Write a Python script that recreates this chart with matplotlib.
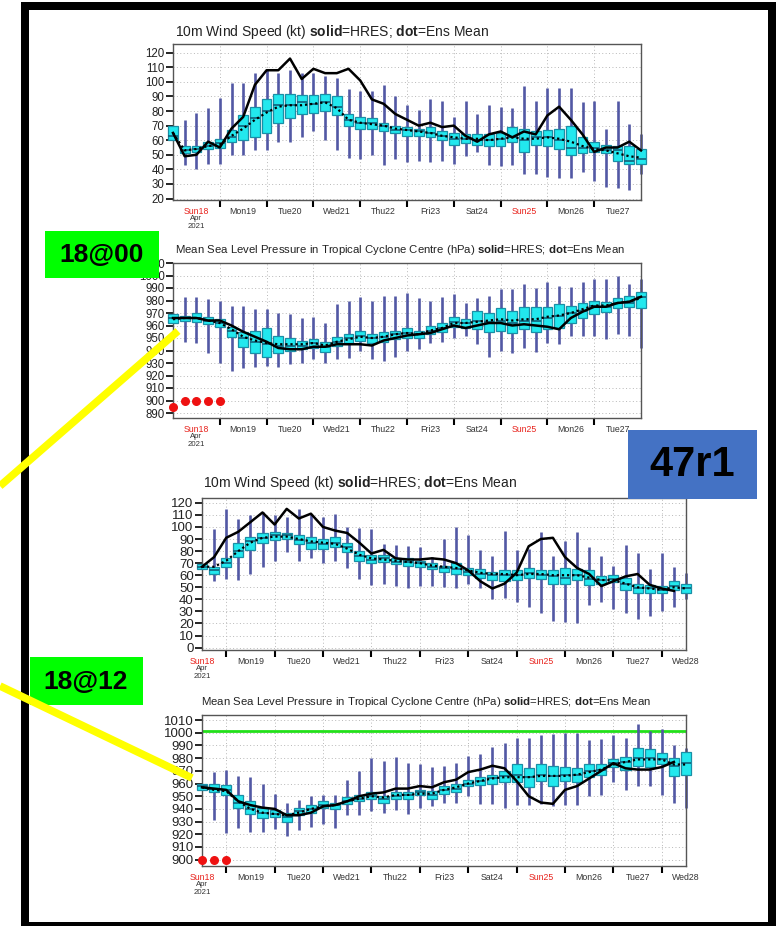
import matplotlib
matplotlib.use("Agg")
import matplotlib.pyplot as plt
from matplotlib.patches import Rectangle
from matplotlib.lines import Line2D
import numpy as np

plt.rcParams['font.family'] = ['Liberation Sans', 'DejaVu Sans']
plt.rcParams['mathtext.fontset'] = 'custom'
plt.rcParams['mathtext.rm'] = 'Liberation Sans'
plt.rcParams['mathtext.bf'] = 'Liberation Sans:bold'

W, H = 776, 926

day_names = ["Sun18", "Mon19", "Tue20", "Wed21", "Thu22", "Fri23",
             "Sat24", "Sun25", "Mon26", "Tue27", "Wed28"]

# --- 46r1 run, base 18 Apr 00 UTC: 10m wind (kt) ---
p1_q1 = [60, 51, 52, 54, 55, 59, 60, 62, 65, 72, 75, 78, 79, 80, 77, 70, 68, 68, 66, 65, 63,
         63, 62, 60, 57, 58, 57, 56, 56, 59, 52, 57, 56, 54, 50, 51, 52, 51, 46, 44, 44]
p1_q3 = [70, 56, 56, 59, 61, 67, 77, 83, 88, 92, 92, 91, 91, 92, 90, 78, 76, 75, 72, 70, 69,
         68, 69, 66, 65, 64, 64, 64, 65, 69, 68, 66, 67, 68, 70, 62, 59, 57, 56, 56, 54]
p1_med = [63, 53, 54, 56, 58, 62, 70, 75, 80, 84, 84, 86, 85, 86, 83, 74, 72, 72, 70, 67, 67,
          66, 65, 63, 61, 61, 60, 60, 61, 62, 60, 62, 62, 60, 55, 55, 55, 53, 53, 46, 47]
p1_lo = [60, 43, 40, 44, 44, 50, 50, 53, 53, 59, 59, 62, 66, 60, 53, 48, 47, 50, 43, 47, 45,
         46, 45, 46, 44, 49, 52, 43, 42, 43, 37, 37, 35, 34, 34, 38, 32, 28, 27, 26, 37]
p1_hi = [70, 74, 79, 82, 89, 99, 99, 106, 108, 106, 108, 106, 106, 104, 103, 95, 94, 94, 98, 90, 84,
         81, 88, 87, 76, 87, 78, 84, 83, 82, 97, 87, 96, 96, 96, 86, 87, 68, 87, 71, 64]
p1_mean = [65, 53, 54, 56, 57, 63, 68, 74, 79, 83, 84, 84, 85, 86, 82, 74, 72, 71, 70, 68, 67,
           66, 65, 63, 62, 61, 61, 60, 61, 62, 61, 61, 62, 61, 59, 56, 54, 53, 51, 49, 48]
p1_hres = [65, 49, 50, 59, 55, 68, 76, 98, 108, 108, 116, 102, 109, 106, 106, 109, 101, 88, 85, 78, 74,
           70, 72, 69, 70, 63, 59, 64, 66, 62, 66, 64, 77, 83, 74, 64, 52, 55, 55, 59, 53]

# --- base 18 Apr 00 UTC: MSLP in cyclone centre (hPa) ---
p2_q1 = [962, 964, 963, 961, 959, 951, 943, 938, 935, 938, 940, 941, 942, 939, 944, 946, 948, 946, 947, 949, 950,
         950, 953, 955, 959, 958, 957, 955, 956, 954, 957, 955, 957, 958, 962, 966, 969, 971, 974, 975, 974]
p2_q3 = [969, 968, 970, 967, 965, 959, 955, 956, 958, 952, 950, 948, 949, 947, 951, 953, 956, 953, 955, 956, 958,
         956, 960, 962, 967, 965, 972, 970, 974, 972, 975, 975, 975, 977, 976, 978, 980, 979, 982, 984, 987]
p2_med = [966, 966, 966, 964, 962, 956, 950, 947, 945, 944, 944, 944, 946, 943, 947, 950, 952, 950, 951, 953, 954,
          953, 956, 958, 963, 962, 964, 963, 964, 962, 964, 964, 966, 968, 970, 972, 976, 975, 978, 978, 983]
p2_lo = [962, 947, 946, 938, 930, 924, 926, 927, 928, 927, 929, 930, 933, 930, 933, 934, 940, 933, 932, 935, 940,
         941, 946, 947, 950, 952, 945, 935, 940, 938, 942, 939, 946, 945, 952, 952, 952, 949, 953, 952, 942]
p2_hi = [969, 983, 983, 981, 980, 976, 976, 973, 973, 970, 969, 966, 967, 962, 977, 980, 983, 980, 984, 984, 986,
         982, 980, 983, 985, 978, 982, 984, 989, 989, 993, 990, 995, 992, 991, 995, 997, 997, 1000, 993, 997]
p2_mean = [965, 966, 966, 964, 962, 957, 951, 948, 946, 945, 945, 945, 946, 944, 947, 949, 951, 950, 951, 953, 954,
           953, 956, 958, 962, 962, 963, 964, 965, 964, 965, 965, 967, 968, 970, 973, 976, 976, 978, 979, 982]
p2_hres = [966, 966, 966, 964, 964, 960, 955, 951, 947, 942, 941, 941, 943, 943, 945, 945, 945, 944, 948, 950, 952,
           953, 954, 957, 960, 958, 960, 962, 962, 960, 961, 960, 959, 957, 966, 971, 975, 975, 978, 979, 983]
p2_dot_t = [0, 6, 12, 18, 24]
p2_dot_v = [895, 900, 900, 900, 900]

# --- 47r1 run, base 18 Apr 12 UTC: 10m wind (kt) ---
p3_q1 = [65, 61, 67, 75, 81, 87, 89, 90, 86, 82, 82, 83, 79, 72, 70, 71, 69, 68, 67, 65, 63,
         61, 60, 58, 56, 55, 56, 58, 57, 53, 53, 56, 52, 53, 54, 48, 45, 45, 45, 48, 45]
p3_q3 = [69, 67, 74, 87, 92, 95, 96, 95, 93, 92, 90, 92, 87, 80, 77, 77, 74, 74, 72, 70, 68,
         70, 66, 65, 63, 64, 64, 66, 64, 64, 66, 65, 64, 59, 60, 58, 53, 52, 51, 55, 53]
p3_med = [67, 64, 70, 80, 88, 91, 93, 93, 89, 87, 86, 87, 83, 76, 73, 74, 71, 71, 70, 67, 66,
          65, 63, 61, 60, 60, 60, 62, 60, 59, 58, 60, 57, 56, 57, 53, 49, 49, 48, 51, 49]
p3_lo = [65, 55, 57, 56, 61, 67, 72, 79, 72, 74, 70, 72, 66, 57, 52, 53, 51, 49, 51, 51, 50,
         49, 53, 49, 40, 41, 38, 34, 29, 22, 21, 20, 35, 38, 32, 29, 24, 26, 30, 34, 40]
p3_hi = [69, 98, 115, 107, 110, 112, 110, 108, 115, 111, 108, 111, 100, 99, 98, 86, 85, 84, 83, 75, 90,
         100, 93, 81, 76, 97, 81, 82, 96, 76, 88, 96, 83, 76, 68, 85, 78, 65, 78, 67, 62]
p3_mean = [67, 67, 72, 80, 87, 91, 92, 92, 90, 88, 87, 86, 82, 77, 74, 73, 72, 71, 70, 68, 67,
           66, 64, 62, 61, 61, 60, 61, 61, 60, 60, 60, 58, 56, 56, 53, 50, 49, 48, 50, 49]
p3_hres = [67, 75, 91, 96, 104, 112, 102, 115, 107, 111, 100, 97, 95, 87, 78, 81, 74, 73, 73, 74,
           73, 70, 64, 55, 49, 53, 62, 84, 90, 91, 75, 66, 61, 51, 55, 59, 61, 52, 49, 47]

# --- base 18 Apr 12 UTC: MSLP in cyclone centre (hPa) ---
p4_q1 = [955, 953, 951, 941, 936, 933, 934, 930, 935, 937, 941, 940, 944, 946, 948, 945, 948, 948, 951, 948, 952,
         953, 958, 959, 960, 961, 961, 957, 962, 958, 962, 961, 965, 967, 973, 971, 974, 973, 975, 966, 967]
p4_q3 = [960, 960, 959, 951, 946, 941, 939, 937, 941, 943, 946, 945, 949, 951, 953, 950, 953, 953, 955, 954, 958,
         960, 963, 965, 967, 970, 975, 972, 975, 974, 973, 972, 975, 975, 979, 981, 988, 987, 984, 980, 985]
p4_med = [958, 956, 955, 945, 940, 937, 936, 934, 938, 940, 943, 943, 946, 948, 950, 948, 950, 951, 953, 951, 955,
          956, 960, 962, 964, 966, 967, 965, 967, 966, 967, 967, 970, 971, 976, 977, 980, 980, 979, 974, 976]
p4_lo = [955, 931, 921, 925, 922, 922, 924, 919, 923, 926, 928, 925, 935, 935, 938, 937, 939, 936, 941, 942, 945,
         945, 950, 944, 944, 941, 943, 943, 944, 942, 943, 943, 950, 951, 961, 955, 958, 958, 951, 945, 941]
p4_hi = [960, 969, 971, 966, 965, 960, 952, 945, 947, 950, 951, 951, 963, 970, 980, 978, 981, 976, 975, 973, 974,
         976, 982, 983, 989, 992, 996, 996, 998, 999, 1000, 1000, 994, 995, 998, 996, 1007, 1001, 1003, 990, 988]
p4_mean = [957, 955, 954, 946, 940, 937, 936, 935, 937, 940, 942, 943, 946, 948, 950, 949, 951, 951, 952, 952, 955,
           957, 960, 962, 964, 965, 965, 965, 966, 966, 966, 967, 969, 971, 975, 977, 979, 979, 979, 975, 975]
p4_hres = [957, 956, 955, 946, 943, 941, 940, 935, 935, 937, 942, 943, 946, 950, 952, 953, 956, 956, 958, 957,
           961, 963, 969, 971, 974, 972, 962, 950, 945, 944, 955, 958, 964, 970, 976, 972, 971, 971, 973, 977]
p4_dot_t = [12, 18, 24]
p4_dot_v = [900, 900, 900]
p4_ref_line = 1001

BOX_FACE = '#22e8ee'
BOX_EDGE = '#1a8fa6'
WHISKER = '#5258a4'


def fig_axes(fig, left, top, right, bottom):
    return fig.add_axes([left / W, 1 - bottom / H, (right - left) / W, (bottom - top) / H])


def draw_panel(ax, start, q1, q3, med, lo, hi, mean, hres, ylim, yticks, ylab_fs):
    t = start + 6 * np.arange(len(q1))
    th = start + 6 * np.arange(len(hres))
    q1 = np.array(q1)
    q3 = np.array(q3)
    ax.vlines(t, lo, hi, color=WHISKER, lw=1.9, zorder=2, clip_on=False)
    ax.bar(t, q3 - q1, bottom=q1, width=5.0, color=BOX_FACE, edgecolor=BOX_EDGE,
           lw=0.9, zorder=3, clip_on=False)
    ax.hlines(med, t - 2.5, t + 2.5, color='#12607a', lw=1.2, zorder=4, clip_on=False)
    ax.plot(t, mean, color='black', lw=1.6, ls=(0, (1, 1.3)), zorder=5, clip_on=False)
    ax.plot(th, hres, color='black', lw=1.8, zorder=6, clip_on=False)

    x0, x1 = start, start + 240
    ax.set_xlim(x0, x1)
    ax.set_ylim(*ylim)
    ax.set_yticks(yticks)
    ax.tick_params(axis='y', labelsize=ylab_fs, length=5, width=1.2, pad=1,
                   labelcolor='#222222')
    majors = np.arange(24, 241, 24)
    majors = majors[(majors > x0) & (majors < x1)]
    ax.set_xticks(majors)
    ax.set_xticklabels([])
    ax.tick_params(axis='x', length=5, width=1.5)
    ax.grid(True, color='#b8b8b8', lw=0.7, ls=(0, (1, 2.5)))
    ax.set_axisbelow(True)
    for s in ax.spines.values():
        s.set_color('#555555')
        s.set_linewidth(1.0)

    # day labels sit at 12 UTC
    for k, name in enumerate(day_names):
        xc = 24 * k + 12
        if xc < x0 or xc > x1:
            continue
        col = '#e8221c' if name.startswith('Sun') else '#333333'
        ax.annotate(name, xy=(xc, 0), xycoords=('data', 'axes fraction'),
                    xytext=(0, -8.2), textcoords='offset points',
                    ha='center', va='center', fontsize=6.3, color=col, annotation_clip=False)
        if k == 0:
            for txt, dy in (("Apr", -13.6), ("2021", -19.0)):
                ax.annotate(txt, xy=(xc, 0), xycoords=('data', 'axes fraction'),
                            xytext=(0, dy), textcoords='offset points',
                            ha='center', va='center', fontsize=5.6, color='#333333',
                            annotation_clip=False)
    return t


fig = plt.figure(figsize=(W / 100, H / 100), dpi=100)
fig.patch.set_facecolor('white')

wind_title = r"10m Wind Speed (kt) $\mathbf{solid}$=HRES; $\mathbf{dot}$=Ens Mean"
mslp_title = (r"Mean Sea Level Pressure in Tropical Cyclone Centre (hPa) "
              r"$\mathbf{solid}$=HRES; $\mathbf{dot}$=Ens Mean")

ax1 = fig_axes(fig, 173, 44, 641, 200)
draw_panel(ax1, 0, p1_q1, p1_q3, p1_med, p1_lo, p1_hi, p1_mean, p1_hres,
           (19, 126), np.arange(20, 121, 10), 8.3)
fig.text(175 / W, 1 - 32 / H, wind_title, fontsize=10, ha='left', va='center', color='#222222')

ax2 = fig_axes(fig, 173, 263, 641, 418)
draw_panel(ax2, 0, p2_q1, p2_q3, p2_med, p2_lo, p2_hi, p2_mean, p2_hres,
           (886, 1010), np.arange(890, 1011, 10), 8.3)
ax2.scatter(p2_dot_t, p2_dot_v, s=30, color='#ee1111', zorder=7, clip_on=False)
fig.text(175 / W, 1 - 250 / H, mslp_title, fontsize=8.2, ha='left', va='center', color='#222222')

ax3 = fig_axes(fig, 202, 498, 686, 650)
draw_panel(ax3, 12, p3_q1, p3_q3, p3_med, p3_lo, p3_hi, p3_mean, p3_hres,
           (-2, 124), np.arange(0, 121, 10), 9.5)
fig.text(203 / W, 1 - 483 / H, wind_title, fontsize=10, ha='left', va='center', color='#222222')

ax4 = fig_axes(fig, 202, 715, 686, 866)
draw_panel(ax4, 12, p4_q1, p4_q3, p4_med, p4_lo, p4_hi, p4_mean, p4_hres,
           (895, 1014), np.arange(900, 1011, 10), 9.5)
ax4.axhline(p4_ref_line, color='#22e01a', lw=2.0, zorder=1)
ax4.scatter(p4_dot_t, p4_dot_v, s=30, color='#ee1111', zorder=7, clip_on=False)
fig.text(201 / W, 1 - 702 / H, mslp_title, fontsize=8.2, ha='left', va='center', color='#222222')


def px_rect(x0, y0, x1, y1, **kw):
    fig.add_artist(Rectangle((x0 / W, 1 - y1 / H), (x1 - x0) / W, (y1 - y0) / H,
                             transform=fig.transFigure, **kw))


# slide frame
px_rect(21, 2, 776, 10, color='black', lw=0, zorder=20)
px_rect(21, 2, 29, 926, color='black', lw=0, zorder=20)
px_rect(768, 2, 776, 926, color='black', lw=0, zorder=20)
px_rect(21, 922, 776, 926, color='black', lw=0, zorder=20)

# run labels
px_rect(45, 231, 159, 278, color='#00ff00', lw=0, zorder=21)
fig.text(102 / W, 1 - 255 / H, "18@00", fontsize=19, fontweight='bold', ha='center',
         va='center', family='Liberation Sans', color='black', zorder=22)
px_rect(30, 657, 143, 705, color='#00ff00', lw=0, zorder=21)
fig.text(86 / W, 1 - 682 / H, "18@12", fontsize=19, fontweight='bold', ha='center',
         va='center', family='Liberation Sans', color='black', zorder=22)
px_rect(628, 430, 757, 499, color='#4472c4', lw=0, zorder=21)
fig.text(692 / W, 1 - 465 / H, "47r1", fontsize=30, fontweight='bold', ha='center',
         va='center', family='Liberation Sans', color='black', zorder=22)

# pointers to the analysis values
for (xa, ya), (xb, yb) in (((0, 486), (178, 331)), ((0, 686), (192, 778))):
    fig.add_artist(Line2D([xa / W, xb / W], [1 - ya / H, 1 - yb / H], transform=fig.transFigure,
                          color='#ffff00', lw=5.5, solid_capstyle='butt', zorder=23))

fig.savefig("out.png", dpi=100)
